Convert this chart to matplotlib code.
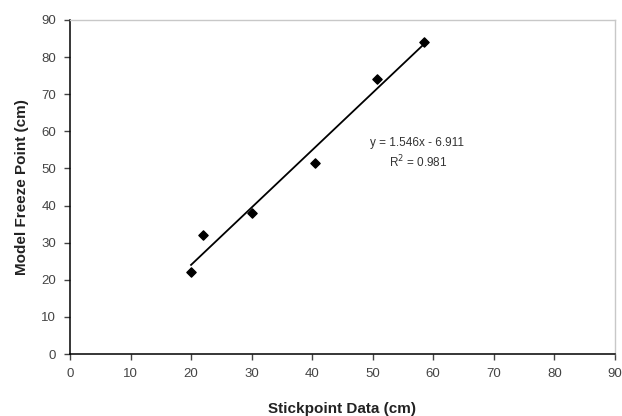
import numpy as np
import matplotlib.pyplot as plt

plt.rcParams['font.family'] = ['Liberation Sans', 'DejaVu Sans']

# Stickpoint measurements vs. model freeze point
stickpoint = [20.0, 22.0, 30.0, 40.5, 50.7, 58.5]
freeze_point = [22.0, 32.0, 38.0, 51.5, 74.0, 84.0]

# Linear trend line reported on the chart
slope = 1.546
intercept = -6.911
r_squared = 0.981

fig = plt.figure(figsize=(6.22, 4.16), dpi=100)
ax = fig.add_axes([0.1125, 0.149, 0.876, 0.803])

ax.scatter(stickpoint, freeze_point, marker='D', s=22, color='black', zorder=3)

xs = np.array([min(stickpoint), max(stickpoint)])
ax.plot(xs, slope * xs + intercept, color='black', lw=1.3, zorder=2)

ax.text(57.3, 56.9, f'y = {slope:.3f}x - {-intercept:.3f}', ha='center', va='center',
        fontsize=8.5, color='#333333')
ax.text(57.6, 51.6, f'R$^2$ = {r_squared:.3f}', ha='center', va='center',
        fontsize=8.5, color='#333333')

ax.set_xlim(0, 90)
ax.set_ylim(0, 90)
ax.set_xticks(range(0, 91, 10))
ax.set_yticks(range(0, 91, 10))
ax.tick_params(direction='out', length=4, width=1, labelsize=9.5, colors='#444444', pad=6)

for side in ('left', 'bottom'):
    ax.spines[side].set_color('black')
    ax.spines[side].set_linewidth(1.1)
for side in ('top', 'right'):
    ax.spines[side].set_color('#c8c8c8')
    ax.spines[side].set_linewidth(1.0)

ax.set_xlabel('Stickpoint Data (cm)', fontsize=11, fontweight='bold', color='#222222', labelpad=16)
ax.set_ylabel('Model Freeze Point (cm)', fontsize=11, fontweight='bold', color='#222222', labelpad=9)

fig.savefig('out.png', dpi=100)
